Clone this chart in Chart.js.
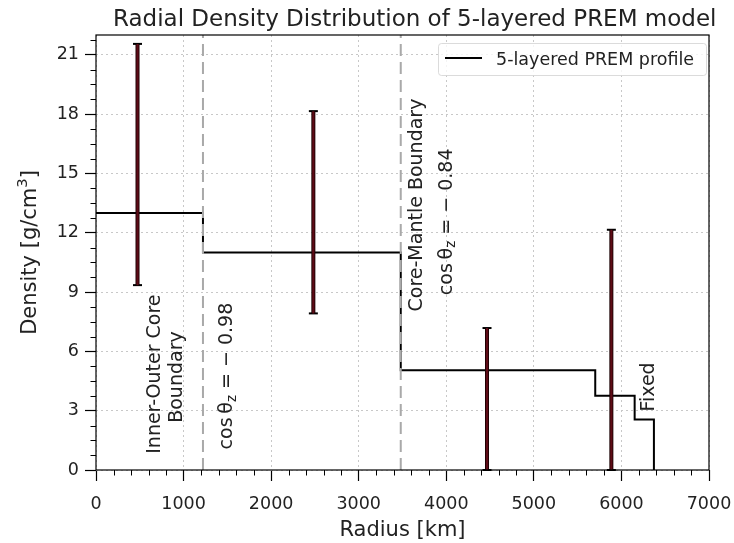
<!DOCTYPE html>
<html>
<head>
<meta charset="utf-8">
<title>Radial Density Distribution</title>
<script src="https://cdn.jsdelivr.net/npm/chart.js"></script>
<style>
    html, body { margin: 0; padding: 0; background: #fff; }
    #wrap { width: 734px; height: 543px; }
</style>
</head>
<body>
<div id="wrap"><canvas id="densityChart" width="734" height="543"></canvas></div>
<script>
// ===== DATA =====
// outer radius of each shell (km) and its mean density (g/cm^3)
const layerOuter = [1221.5, 3480, 5701, 6151, 6371];
const layerDensity = [13.0, 11.0, 5.05, 3.75, 2.55];

// density spread sampled at a few radii
const errRadius = [474, 2482, 4465, 5885];
const errLow = [9.35, 7.92, 0, 0];
const errHigh = [21.55, 18.15, 7.18, 12.15];

// discontinuities marked with dashed lines
const boundaryRadius = [1221.5, 3480];

const xTicks = [0, 1000, 2000, 3000, 4000, 5000, 6000, 7000];
const yTicks = [0, 3, 6, 9, 12, 15, 18, 21];
const xMax = 7000;
const yMax = 22;
const xMinorStep = 200;
const yMinorStep = 0.75;

const FONT = "'DejaVu Sans', sans-serif";
Chart.defaults.font.family = FONT;

// ===== BUILD POINTS =====
const stepPoints = layerOuter.map((r, i) => ({ x: i === 0 ? 0 : layerOuter[i - 1], y: layerDensity[i] }));
stepPoints.push({ x: layerOuter[layerOuter.length - 1], y: layerDensity[layerDensity.length - 1] });
stepPoints.push({ x: layerOuter[layerOuter.length - 1], y: 0 });

const errPoints = [];
errRadius.forEach((r, i) => {
    errPoints.push({ x: r, y: errLow[i] }, { x: r, y: errHigh[i] }, { x: r, y: null });
});

const boundaryPoints = [];
boundaryRadius.forEach(r => {
    boundaryPoints.push({ x: r, y: 0 }, { x: r, y: yMax }, { x: r, y: null });
});

// rotated labels placed in data coordinates
const notes = [
    { parts: [{ t: 'Inner-Outer Core' }], x: 675, y: 4.85 },
    { parts: [{ t: 'Boundary' }], x: 925, y: 4.7 },
    { parts: [{ t: 'cos\u2009θ' }, { t: 'z', sub: true }, { t: ' = − 0.98' }], x: 1500, y: 4.75 },
    { parts: [{ t: 'Core-Mantle Boundary' }], x: 3665, y: 13.4 },
    { parts: [{ t: 'cos\u2009θ' }, { t: 'z', sub: true }, { t: ' = − 0.84' }], x: 4010, y: 12.55 },
    { parts: [{ t: 'Fixed' }], x: 6315, y: 4.2 }
];

function drawRich(ctx, parts, cx, cy, size, angle) {
    ctx.save();
    ctx.translate(cx, cy);
    ctx.rotate(angle);
    ctx.textBaseline = 'middle';
    ctx.textAlign = 'left';
    const sizes = parts.map(p => (p.sub || p.sup) ? size * 0.7 : size);
    const widths = parts.map((p, i) => {
        ctx.font = sizes[i] + 'px ' + FONT;
        return ctx.measureText(p.t).width;
    });
    let x = -widths.reduce((a, b) => a + b, 0) / 2;
    parts.forEach((p, i) => {
        ctx.font = sizes[i] + 'px ' + FONT;
        const dy = p.sub ? size * 0.25 : p.sup ? -size * 0.38 : 0;
        ctx.fillText(p.t, x, dy);
        x += widths[i];
    });
    ctx.restore();
}

// frame, minor ticks, titles, annotations and legend
const decorations = {
    id: 'decorations',
    afterDatasetsDraw(chart) {
        const { ctx, chartArea: a, scales: { x, y } } = chart;
        ctx.save();
        ctx.fillStyle = '#222';

        // rotated notes
        notes.forEach(n => {
            drawRich(ctx, n.parts, x.getPixelForValue(n.x), y.getPixelForValue(n.y), 19, -Math.PI / 2);
        });

        // legend
        ctx.fillStyle = 'rgba(255,255,255,0.8)';
        ctx.strokeStyle = 'rgba(210,210,210,0.8)';
        ctx.lineWidth = 1;
        ctx.beginPath();
        ctx.roundRect(438.5, 43.5, 268, 32, 3);
        ctx.fill();
        ctx.stroke();
        ctx.strokeStyle = '#000';
        ctx.lineWidth = 2;
        ctx.beginPath();
        ctx.moveTo(445, 58);
        ctx.lineTo(482, 58);
        ctx.stroke();
        ctx.fillStyle = '#222';
        ctx.font = '17.5px ' + FONT;
        ctx.textAlign = 'left';
        ctx.textBaseline = 'alphabetic';
        ctx.fillText('5-layered PREM profile', 496, 64.5);

        // frame
        ctx.strokeStyle = '#000';
        ctx.lineWidth = 1.2;
        ctx.strokeRect(a.left, a.top, a.right - a.left, a.bottom - a.top);

        // minor ticks
        ctx.lineWidth = 1;
        ctx.beginPath();
        for (let v = 0; v <= xMax + 1e-6; v += xMinorStep) {
            if (xTicks.includes(v)) continue;
            const px = Math.round(x.getPixelForValue(v)) + 0.5;
            ctx.moveTo(px, a.bottom);
            ctx.lineTo(px, a.bottom + 5.5);
        }
        for (let k = 0; k * yMinorStep <= yMax + 1e-6; k++) {
            const v = k * yMinorStep;
            if (yTicks.includes(v)) continue;
            const py = Math.round(y.getPixelForValue(v)) + 0.5;
            ctx.moveTo(a.left, py);
            ctx.lineTo(a.left - 5.5, py);
        }
        ctx.stroke();

        // chart title and axis titles
        ctx.fillStyle = '#222';
        ctx.font = '23px ' + FONT;
        ctx.textAlign = 'left';
        ctx.fillText('Radial Density Distribution of 5-layered PREM model', 113, 26);

        ctx.font = '21px ' + FONT;
        ctx.textAlign = 'center';
        ctx.fillText('Radius [km]', (a.left + a.right) / 2, 536);

        drawRich(ctx, [{ t: 'Density [g/cm' }, { t: '3', sup: true }, { t: ']' }],
            31, (a.top + a.bottom) / 2, 21, -Math.PI / 2);

        ctx.restore();
    }
};

const tickFont = { size: 17.5, family: FONT };

new Chart(document.getElementById('densityChart'), {
    type: 'scatter',
    data: {
        datasets: [
            {
                label: 'spread',
                data: errPoints,
                showLine: true,
                borderColor: '#5e0b16',
                borderWidth: 2.2,
                pointRadius: 0,
                clip: false,
                order: 0
            },
            {
                label: 'spread outline',
                data: errPoints,
                showLine: true,
                borderColor: '#1a0003',
                borderWidth: 4,
                pointStyle: 'line',
                pointRadius: 4.5,
                pointBorderWidth: 2,
                pointBorderColor: '#000',
                clip: false,
                order: 1
            },
            {
                label: 'boundaries',
                data: boundaryPoints,
                showLine: true,
                borderColor: '#a9a9a9',
                borderWidth: 2,
                borderDash: [12, 6],
                pointRadius: 0,
                order: 2
            },
            {
                label: '5-layered PREM profile',
                data: stepPoints,
                showLine: true,
                stepped: 'before',
                borderColor: '#000',
                borderWidth: 2,
                pointRadius: 0,
                order: 3
            }
        ]
    },
    options: {
        responsive: false,
        animation: false,
        events: [],
        layout: { padding: { top: 35, right: 25, left: 0, bottom: 0 } },
        plugins: {
            legend: { display: false },
            tooltip: { enabled: false }
        },
        scales: {
            x: {
                type: 'linear',
                min: 0,
                max: xMax,
                afterBuildTicks: axis => { axis.ticks = xTicks.map(v => ({ value: v })); },
                afterFit: axis => {
                    axis.height = 73;
                    // edge labels may overhang the plot; keep the layout padding in charge
                    axis.paddingLeft = 0;
                    axis.paddingRight = 0;
                },
                border: { display: false, dash: [2, 3] },
                grid: { color: '#c8c8c8', lineWidth: 1, tickLength: 11, tickColor: '#000', tickWidth: 1.2 },
                ticks: { font: tickFont, color: '#222', padding: 13, maxRotation: 0, autoSkip: false,
                         callback: v => String(v) }
            },
            y: {
                type: 'linear',
                min: 0,
                max: yMax,
                afterBuildTicks: axis => { axis.ticks = yTicks.map(v => ({ value: v })); },
                afterFit: axis => {
                    axis.width = 96;
                    axis.paddingTop = 0;
                    axis.paddingBottom = 0;
                },
                border: { display: false, dash: [2, 3] },
                grid: { color: '#c8c8c8', lineWidth: 1, tickLength: 11, tickColor: '#000', tickWidth: 1.2 },
                ticks: { font: tickFont, color: '#222', padding: 6, autoSkip: false,
                         callback: v => String(v) }
            }
        }
    },
    plugins: [decorations]
});
</script>
</body>
</html>
